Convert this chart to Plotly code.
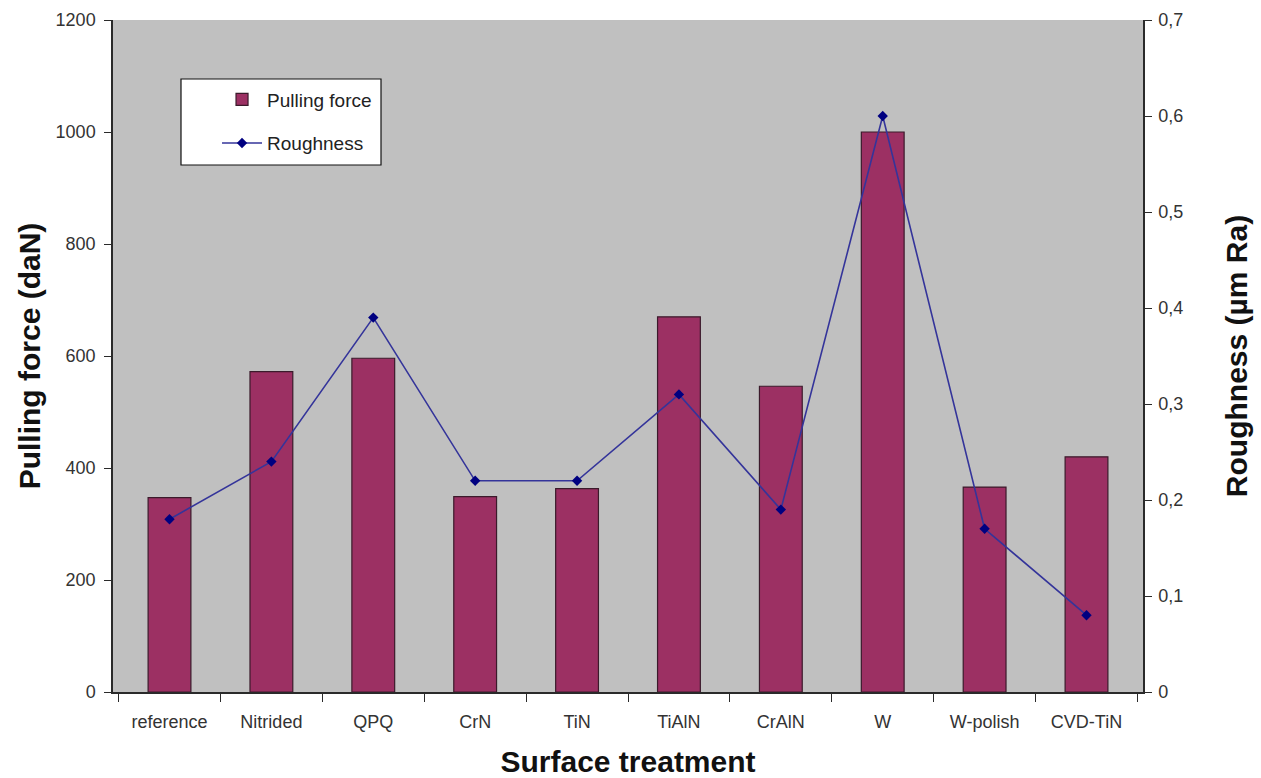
import plotly.graph_objects as go

# Surface treatments tested
treatments = ["reference", "Nitrided", "QPQ", "CrN", "TiN", "TiAlN",
              "CrAlN", "W", "W-polish", "CVD-TiN"]

# Pulling force per treatment (daN)
pulling_force = [347, 572, 596, 349, 363, 670, 546, 1000, 366, 420]

# Surface roughness per treatment (µm Ra)
roughness = [0.18, 0.24, 0.39, 0.22, 0.22, 0.31, 0.19, 0.60, 0.17, 0.08]

# Axis ticks
force_ticks = [0, 200, 400, 600, 800, 1000, 1200]
rough_ticks = [0, 0.1, 0.2, 0.3, 0.4, 0.5, 0.6, 0.7]
rough_labels = ["0", "0,1", "0,2", "0,3", "0,4", "0,5", "0,6", "0,7"]

FONT = "Liberation Sans, Arial, sans-serif"
AXIS_COLOR = "#2a2a2a"
TICK_FONT = dict(family=FONT, size=18, color="#333333")
TITLE_FONT = dict(family=FONT, size=30, color="#111111")

fig = go.Figure()

fig.add_trace(go.Bar(
    x=treatments, y=pulling_force, name="Pulling force",
    marker=dict(color="#9c3063", line=dict(color="#3b1a2b", width=1.2)),
    legendgroup="force",
))

fig.add_trace(go.Scatter(
    x=treatments, y=roughness, name="Roughness", yaxis="y2",
    mode="lines+markers",
    line=dict(color="#34349a", width=1.6),
    marker=dict(symbol="diamond", size=8, color="#000080"),
    legendgroup="rough",
))

fig.update_layout(
    width=1261, height=778,
    margin=dict(l=113, r=118, t=20, b=86),
    paper_bgcolor="white",
    plot_bgcolor="#c0c0c0",
    font=dict(family=FONT, size=18, color="#333333"),
    bargap=0.58,
    showlegend=True,
    legend=dict(
        x=0.101, y=0.910, xanchor="left", yanchor="top",
        bgcolor="rgba(0,0,0,0)", borderwidth=0,
        font=dict(family=FONT, size=19, color="#222222"),
        traceorder="grouped", tracegroupgap=16,
        itemwidth=40,
    ),
    xaxis=dict(
        type="category", automargin=False,
        showline=True, linecolor=AXIS_COLOR, linewidth=1.5,
        ticks="outside", tickson="boundaries", ticklen=8,
        tickcolor=AXIS_COLOR, tickwidth=1.2,
        ticklabelstandoff=13,
        tickfont=TICK_FONT,
        showgrid=False,
        title=dict(text="<b>Surface treatment</b>", standoff=28,
                   font=TITLE_FONT),
    ),
    yaxis=dict(
        range=[0, 1200], tickvals=force_ticks, automargin=False,
        showline=True, linecolor=AXIS_COLOR, linewidth=1.5,
        ticks="outside", ticklen=7, tickcolor=AXIS_COLOR, tickwidth=1.2,
        ticklabelstandoff=5,
        showgrid=False, zeroline=False,
        tickfont=TICK_FONT,
        title=dict(text="<b>Pulling force (daN)</b>", standoff=6,
                   font=TITLE_FONT),
    ),
    yaxis2=dict(
        overlaying="y", side="right", automargin=False,
        range=[0, 0.7], tickvals=rough_ticks, ticktext=rough_labels,
        showline=True, linecolor=AXIS_COLOR, linewidth=1.5,
        ticks="outside", ticklen=7, tickcolor=AXIS_COLOR, tickwidth=1.2,
        ticklabelstandoff=3,
        showgrid=False, zeroline=False,
        tickfont=TICK_FONT,
        title=dict(text="<b>Roughness (µm Ra)</b>", standoff=44,
                   font=TITLE_FONT),
    ),
    shapes=[dict(
        type="rect", xref="paper", yref="paper",
        x0=(181 - 113) / 1030, x1=(381 - 113) / 1030,
        y0=(692 - 165) / 672, y1=(692 - 79) / 672,
        fillcolor="white", line=dict(color="#111111", width=1.2),
        layer="above",
    )],
)

fig.write_html("out.html")
